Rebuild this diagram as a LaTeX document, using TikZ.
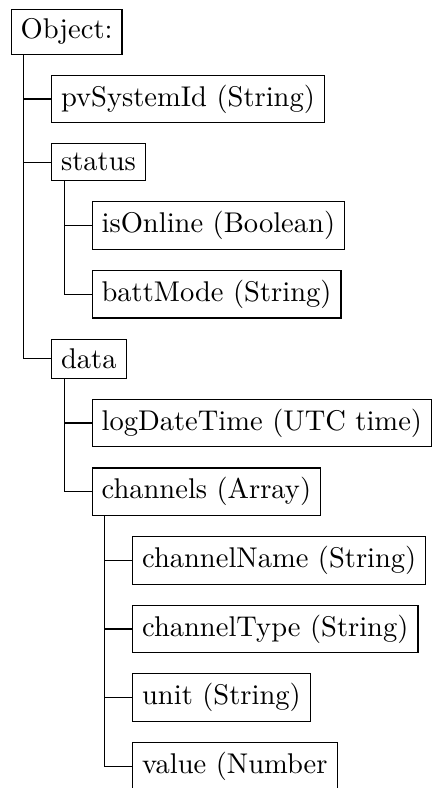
\documentclass[tikz,border=0pt]{standalone}
\usetikzlibrary{positioning}

\begin{document}
\begin{tikzpicture}[
    field/.style={draw, anchor=north west},
    stem/.style={draw, line width=0.4pt}
]
\def\vgap{7.0pt}
\def\hgap{14.2pt}
\def\stemx{4.6pt}

\useasboundingbox (0,0) rectangle (153.3pt,-276.3pt);

% =============================
% 0. Root object
% =============================
\node[field] (obj) at (3.7pt,-3.0pt) {Object:};

% =============================
% 1. First level
% =============================
\node[field, below right=\vgap and \hgap of obj.south west] (pvid) {pvSystemId (String)};
\node[field, below right=\vgap and 0pt of pvid.south west] (status) {status};
\node[field, below right=\vgap and \hgap of status.south west] (online) {isOnline (Boolean)};
\node[field, below right=\vgap and 0pt of online.south west] (battmode) {battMode (String)};
\node[field, below right=\vgap and -\hgap of battmode.south west] (data) {data};

% =============================
% 2. data / channels
% =============================
\node[field, below right=\vgap and \hgap of data.south west] (logtime) {logDateTime (UTC time)};
\node[field, below right=\vgap and 0pt of logtime.south west] (channels) {channels (Array)};
\node[field, below right=\vgap and \hgap of channels.south west] (chname) {channelName (String)};
\node[field, below right=\vgap and 0pt of chname.south west] (chtype) {channelType (String)};
\node[field, below right=\vgap and 0pt of chtype.south west] (unit) {unit (String)};
\node[field, below right=\vgap and 0pt of unit.south west] (value) {value (Number};

% folder stems
\coordinate (obj-stem) at ([xshift=\stemx]obj.south west);
\coordinate (status-stem) at ([xshift=\stemx]status.south west);
\coordinate (data-stem) at ([xshift=\stemx]data.south west);
\coordinate (channels-stem) at ([xshift=\stemx]channels.south west);

\foreach \c in {pvid,status,data} \draw[stem] (obj-stem) |- (\c.west);
\foreach \c in {online,battmode} \draw[stem] (status-stem) |- (\c.west);
\foreach \c in {logtime,channels} \draw[stem] (data-stem) |- (\c.west);
\foreach \c in {chname,chtype,unit,value} \draw[stem] (channels-stem) |- (\c.west);
\end{tikzpicture}
\end{document}
